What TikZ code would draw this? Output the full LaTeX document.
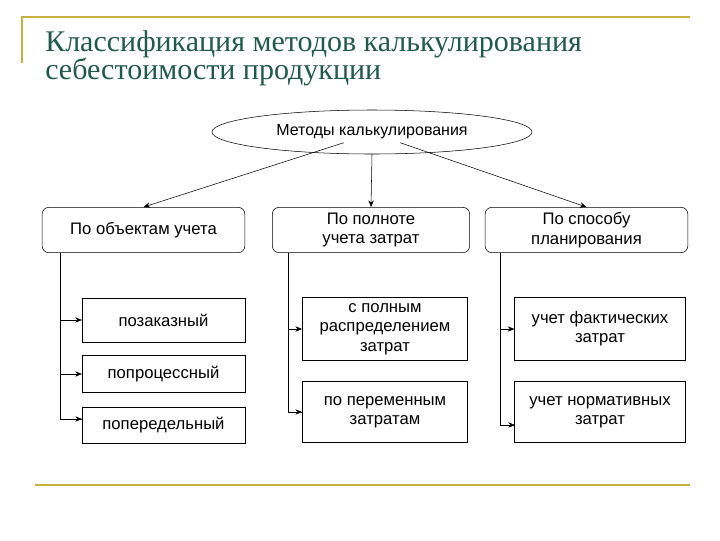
\documentclass[tikz,border=0pt]{standalone}
\usepackage{fontspec}
\setmainfont{Liberation Sans}
\newfontfamily\titlefont{Liberation Serif}
\usetikzlibrary{arrows.meta,shapes.geometric}
\definecolor{gold}{HTML}{C8B040}
\definecolor{tgreen}{HTML}{1F5A4A}
\begin{document}
\begin{tikzpicture}[x=0.75pt,y=-0.75pt,
  bx/.style={draw,thin,align=center,font=\fontsize{12.5}{14.5}\selectfont},
  rbox/.style={bx,rounded corners=5pt},
  arr/.style={-{Stealth[length=5pt,width=4pt]},thin},
  ln/.style={thin}]
\useasboundingbox (0,0) rectangle (720,540);
\draw[gold,line width=1.5pt] (22,63) -- (22,17) -- (690,17);
\draw[gold,line width=1.5pt] (35,485) -- (690,485);
\node[anchor=north west,text=tgreen,align=left,inner sep=0,font=\titlefont\fontsize{22.5}{21}\selectfont] (title) at (45,30) {Классификация методов калькулирования\\себестоимости продукции};
\node[draw,thin,ellipse,minimum width=240pt,minimum height=33pt,font=\fontsize{12}{14}\selectfont] (m) at (372,132) {Методы калькулирования};
\node[rbox,minimum width=152pt,minimum height=34pt] (a) at (143.5,230) {По объектам учета};
\node[rbox,minimum width=148pt,minimum height=34pt] (b) at (371,230) {По полноте\\учета затрат};
\node[rbox,minimum width=152pt,minimum height=34pt] (c) at (586.5,230) {По способу\\планирования};
\node[bx,minimum width=122pt,minimum height=33pt] (a1) at (163.5,320) {позаказный};
\node[bx,minimum width=122pt,minimum height=28pt] (a2) at (163.5,374) {попроцессный};
\node[bx,minimum width=122pt,minimum height=27pt] (a3) at (163.5,425) {попередельный};
\node[bx,minimum width=124pt,minimum height=47pt] (b1) at (385,329) {с полным\\распределением\\затрат};
\node[bx,minimum width=124pt,minimum height=46pt] (b2) at (385,412) {по переменным\\затратам};
\node[bx,minimum width=128pt,minimum height=47pt] (c1) at (600,329) {учет фактических\\затрат};
\node[bx,minimum width=128pt,minimum height=46pt] (c2) at (600,412) {учет нормативных\\затрат};
\draw[arr] (m.south west) ++(85,-5) coordinate (m1) -- (a.north);
\draw[arr] (m.south) -- (b.north);
\draw[arr] (m.south east) ++(-85,-5) coordinate (m2) -- (c.north);
\coordinate (av) at (60,0);
\coordinate (a3in) at (82,419);
\draw[ln] (a.south -| av) |- (a3in);
\draw[arr] (a1.west -| av) -- (a1.west);
\draw[arr] (a2.west -| av) -- (a2.west);
\draw[arr] (a3in -| av) -- (a3in);
\coordinate (bv) at (288,0);
\draw[ln] (b.south -| bv) |- (b2.west);
\draw[arr] (b1.west -| bv) -- (b1.west);
\draw[arr] (b2.west -| bv) -- (b2.west);
\coordinate (cv) at (500,0);
\coordinate (c2in) at (515,425);
\draw[ln] (c.south -| cv) |- (c2in);
\draw[arr] (c1.west -| cv) -- (c1.west);
\draw[arr] (c2in -| cv) -- (c2in);
\end{tikzpicture}
\end{document}
